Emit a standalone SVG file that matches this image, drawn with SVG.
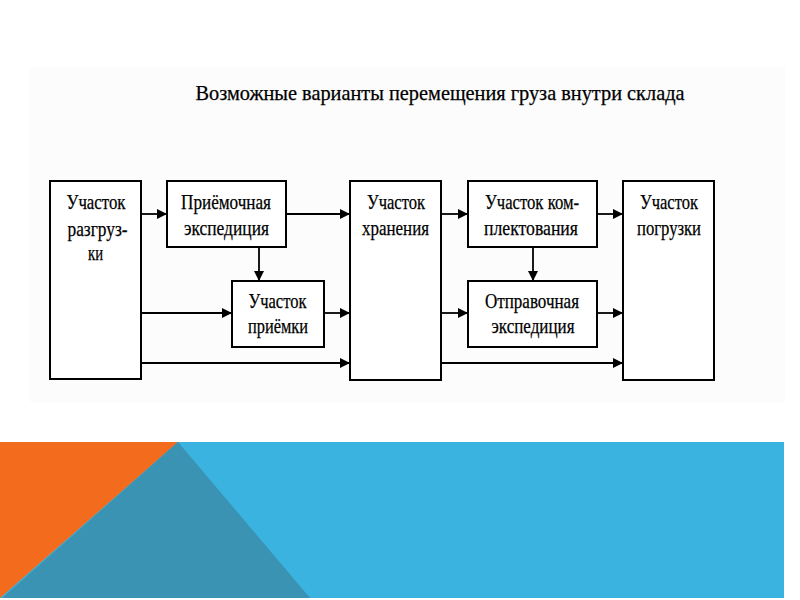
<svg xmlns="http://www.w3.org/2000/svg" width="800" height="600" viewBox="0 0 800 600">
<style>
.box{fill:#fff;stroke:#000;stroke-width:2}
.t{font-family:"Liberation Serif","Times New Roman",serif;font-size:21px;fill:#000;stroke:#000;stroke-width:0.25;text-anchor:middle}
.c{stroke:#000;stroke-width:1.8;fill:none;marker-end:url(#ah)}
</style>
<defs>
<marker id="ah" viewBox="0 0 10 10" refX="10" refY="5" markerWidth="10" markerHeight="10" markerUnits="userSpaceOnUse" orient="auto">
<path d="M0,0 L10,5 L0,10 z" fill="#000"/>
</marker>
</defs>
<rect x="0" y="0" width="800" height="600" fill="#fff"/>
<rect x="30" y="67" width="755" height="335" fill="#fcfcfc"/>
<text class="t" x="440" y="100" textLength="489" lengthAdjust="spacingAndGlyphs">Возможные варианты перемещения груза внутри склада</text>

<g id="connectors">
<line class="c" x1="141" y1="214" x2="167" y2="214"/>
<line class="c" x1="286" y1="214" x2="350" y2="214"/>
<line class="c" x1="259" y1="247" x2="259" y2="281"/>
<line class="c" x1="141" y1="313" x2="232" y2="313"/>
<line class="c" x1="324" y1="313" x2="350" y2="313"/>
<line class="c" x1="141" y1="363" x2="350" y2="363"/>
<line class="c" x1="441" y1="214" x2="468" y2="214"/>
<line class="c" x1="597" y1="214" x2="623" y2="214"/>
<line class="c" x1="533" y1="247" x2="533" y2="281"/>
<line class="c" x1="441" y1="313" x2="468" y2="313"/>
<line class="c" x1="597" y1="313" x2="623" y2="313"/>
<line class="c" x1="441" y1="363" x2="623" y2="363"/>
</g>

<g id="n-razgruzka">
<rect class="box" x="50" y="181" width="91" height="198"/>
<text class="t" x="96" y="209" textLength="59" lengthAdjust="spacingAndGlyphs">Участок</text>
<text class="t" x="97.5" y="236" textLength="60" lengthAdjust="spacingAndGlyphs">разгруз-</text>
<text class="t" x="95.5" y="260" textLength="15" lengthAdjust="spacingAndGlyphs">ки</text>
</g>

<g id="n-priemochnaya">
<rect class="box" x="167" y="181" width="119" height="66"/>
<text class="t" x="226" y="209" textLength="90" lengthAdjust="spacingAndGlyphs">Приёмочная</text>
<text class="t" x="226.5" y="235" textLength="85" lengthAdjust="spacingAndGlyphs">экспедиция</text>
</g>

<g id="n-priemka">
<rect class="box" x="232" y="281" width="92" height="66"/>
<text class="t" x="277.5" y="308" textLength="58" lengthAdjust="spacingAndGlyphs">Участок</text>
<text class="t" x="278" y="333" textLength="60" lengthAdjust="spacingAndGlyphs">приёмки</text>
</g>

<g id="n-hranenie">
<rect class="box" x="350" y="181" width="91" height="199"/>
<text class="t" x="396" y="209" textLength="58" lengthAdjust="spacingAndGlyphs">Участок</text>
<text class="t" x="395.5" y="235" textLength="67" lengthAdjust="spacingAndGlyphs">хранения</text>
</g>

<g id="n-komplektovanie">
<rect class="box" x="468" y="181" width="129" height="66"/>
<text class="t" x="532" y="209" textLength="94" lengthAdjust="spacingAndGlyphs">Участок ком-</text>
<text class="t" x="531" y="235" textLength="94" lengthAdjust="spacingAndGlyphs">плектования</text>
</g>

<g id="n-otpravochnaya">
<rect class="box" x="468" y="281" width="129" height="66"/>
<text class="t" x="532" y="308" textLength="94" lengthAdjust="spacingAndGlyphs">Отправочная</text>
<text class="t" x="533" y="333" textLength="83" lengthAdjust="spacingAndGlyphs">экспедиция</text>
</g>

<g id="n-pogruzka">
<rect class="box" x="623" y="181" width="91" height="199"/>
<text class="t" x="669" y="209" textLength="58" lengthAdjust="spacingAndGlyphs">Участок</text>
<text class="t" x="669" y="235" textLength="64" lengthAdjust="spacingAndGlyphs">погрузки</text>
</g>

<g id="banner">
<rect x="0" y="442" width="784" height="156" fill="#3BB3E0"/>
<polygon points="0,442 178,442 0,598" fill="#F36C1E"/>
<polygon points="178,442 310,598 2,598" fill="#3A93B3"/>
</g>
</svg>
